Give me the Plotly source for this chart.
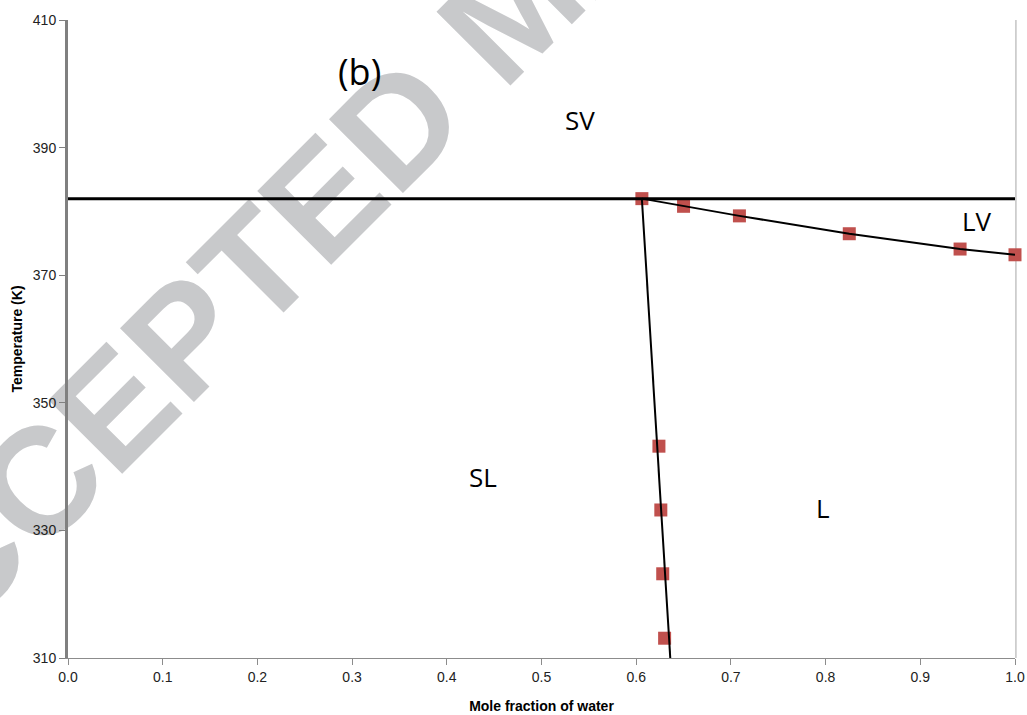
import plotly.graph_objects as go

# Data
triple_T = 382.0
lv_x = [0.606, 0.650, 0.709, 0.825, 0.942, 1.000]
lv_T = [382.0, 380.8, 379.3, 376.5, 374.1, 373.2]
sl_x = [0.624, 0.626, 0.628, 0.630]
sl_T = [343.2, 333.2, 323.2, 313.1]
sl_fit_x = [0.606, 0.636]
sl_fit_T = [382.0, 310.0]
x_ticks = [0.0, 0.1, 0.2, 0.3, 0.4, 0.5, 0.6, 0.7, 0.8, 0.9, 1.0]
y_ticks = [310, 330, 350, 370, 390, 410]

marker_color = "#c0504d"
narrow = "Liberation Sans Narrow, Liberation Sans, Arial"

fig = go.Figure()

# markers first (lines drawn over them, as in reference)
fig.add_trace(go.Scatter(x=lv_x, y=lv_T, mode="markers",
                         marker=dict(symbol="square", size=13, color=marker_color),
                         showlegend=False, cliponaxis=False))
fig.add_trace(go.Scatter(x=sl_x, y=sl_T, mode="markers",
                         marker=dict(symbol="square", size=13, color=marker_color),
                         showlegend=False, cliponaxis=False))
# triple-point horizontal line
fig.add_trace(go.Scatter(x=[0.0, 1.0], y=[triple_T, triple_T], mode="lines",
                         line=dict(color="black", width=3), showlegend=False))
# LV curve
fig.add_trace(go.Scatter(x=lv_x, y=lv_T, mode="lines",
                         line=dict(color="black", width=2), showlegend=False))
# SL line
fig.add_trace(go.Scatter(x=sl_fit_x, y=sl_fit_T, mode="lines",
                         line=dict(color="black", width=2), showlegend=False))

# region labels
labels = [("(b)", 0.308, 401.9, 36), ("SV", 0.541, 394.3, 26), ("LV", 0.960, 378.5, 26),
          ("SL", 0.438, 338.4, 26), ("L", 0.797, 333.5, 26)]
for txt, lx, ly, sz in labels:
    fig.add_annotation(x=lx, y=ly, text=txt, showarrow=False,
                       font=dict(family="Open Sans, Noto Sans", size=sz, color="black"),
                       xanchor="center", yanchor="middle")

# watermark behind everything
fig.add_shape(type="rect", xref="paper", yref="paper", x0=0.36, x1=0.56, y0=0.985, y1=1.085,
              line=dict(width=0), fillcolor="rgba(0,0,0,0)", layer="below",
              label=dict(text="<b>ACCEPTED MANUSCRIPT</b>", textangle=-45,
                         textposition="middle center",
                         font=dict(family="Liberation Sans, Arial", size=152, color="#c8c9cb")))

# right border
fig.add_shape(type="line", xref="paper", yref="paper", x0=1.001, x1=1.001, y0=0, y1=1,
              line=dict(color="#a6a6a6", width=1), layer="below")

fig.update_xaxes(range=[0, 1.0], tickvals=x_ticks, ticktext=[f"{v:.1f}" for v in x_ticks],
                 automargin=False,
                 showgrid=False, zeroline=False, showline=True, linecolor="#8c8c8c", linewidth=1,
                 ticks="outside", ticklen=6, tickcolor="#8c8c8c",
                 tickfont=dict(family=narrow, size=14, color="#222"),
                 title=dict(text="<b>Mole fraction of water</b>", standoff=17,
                            font=dict(family=narrow, size=14, color="black")))
fig.update_yaxes(range=[310, 410], tickvals=y_ticks, automargin=False,
                 showgrid=False, zeroline=False, showline=True, linecolor="#808080", linewidth=3,
                 ticks="outside", ticklen=6, tickcolor="#808080",
                 tickfont=dict(family=narrow, size=14, color="#222"),
                 title=dict(text="<b>Temperature (K)</b>", standoff=7,
                            font=dict(family=narrow, size=14, color="black")))

fig.update_layout(width=1027, height=715, paper_bgcolor="white", plot_bgcolor="white",
                  margin=dict(l=68, r=12, t=20, b=57, autoexpand=False), showlegend=False)

# remove the default page margin so the figure fills the window exactly
fig.write_html("out.html", config={"displayModeBar": False},
               post_script="document.body.style.margin='0';document.body.style.overflow='hidden';")
